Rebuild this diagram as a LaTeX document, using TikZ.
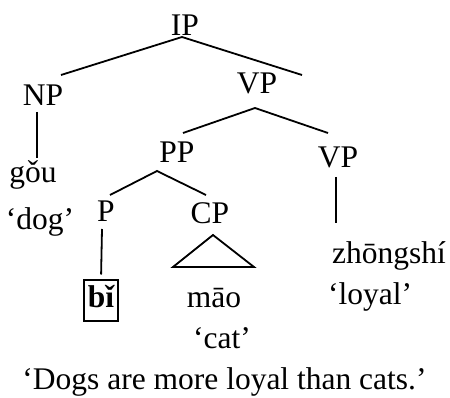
\documentclass[tikz,border=0pt]{standalone}
\usepackage{fontspec}
\setmainfont{Liberation Serif}
\begin{document}
\begin{tikzpicture}[x=1pt,y=-1pt,
  lbl/.style={inner sep=0pt,anchor=base,font=\fontsize{31.5}{36}\selectfont},
  branch/.style={line width=1.8pt}]
\useasboundingbox (0,0) rectangle (450,398);
% category labels
\node[lbl] (IP)  at (185,36)  {IP};
\node[lbl] (NP)  at (43,106)  {NP};
\node[lbl] (VP)  at (257,94)  {VP};
\node[lbl] (PP)  at (177,163) {PP};
\node[lbl] (VPb) at (338,168) {VP};
\node[lbl] (P)   at (106,222) {P};
\node[lbl] (CP)  at (210,224) {CP};
% words and glosses
\node[lbl] (gou)   at (33,183)  {gǒu};
\node[lbl] (dog)   at (40,230)  {‘dog’};
\node[lbl,draw,line width=2pt,inner xsep=4pt,inner ysep=4pt,
      text height=24pt,text depth=9pt,
      font=\fontsize{31.5}{36}\selectfont\bfseries] (bi) at (101,308) {bǐ};
\node[lbl] (mao)   at (214,307) {māo};
\node[lbl] (cat)   at (222,348) {‘cat’};
\node[lbl] (zhong) at (389,264) {zhōngshí};
\node[lbl] (loyal) at (370,305) {‘loyal’};
\node[lbl] (trans) at (224.5,389) {‘Dogs are more loyal than cats.’};
% branch ends
\coordinate (ipTop) at (182,37);
\coordinate (ipL)   at (61,75);
\coordinate (ipR)   at (302,75);
\coordinate (npTop) at (37,112);
\coordinate (npBot) at (37,158);
\coordinate (vpTop) at (255,108);
\coordinate (vpL)   at (183,133);
\coordinate (vpR)   at (328,133);
\coordinate (vpbTop) at (336,177);
\coordinate (vpbBot) at (336,223);
\coordinate (ppTop) at (157,171);
\coordinate (ppL)   at (110,195);
\coordinate (ppR)   at (206,195);
\coordinate (pTop)  at (102,229);
\coordinate (cpTop) at (213,235);
\coordinate (cpL)   at (173,267);
\coordinate (cpR)   at (254,267);
% branches
\draw[branch] (ipL) -- (ipTop) -- (ipR);
\draw[branch] (npTop) -- (npBot);
\draw[branch] (vpL) -- (vpTop) -- (vpR);
\draw[branch] (vpbTop) -- (vpbBot);
\draw[branch] (ppL) -- (ppTop) -- (ppR);
\draw[branch,shorten >=4.5pt] (pTop) -- (bi.north);
\draw[branch] (cpTop) -- (cpL) -- (cpR) -- cycle;
\end{tikzpicture}
\end{document}
